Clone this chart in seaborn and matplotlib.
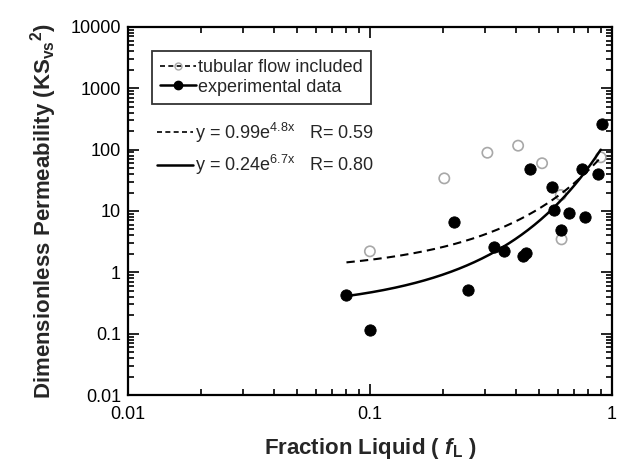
import numpy as np
import pandas as pd
import seaborn as sns
import matplotlib
matplotlib.use("Agg")
import matplotlib.pyplot as plt
from matplotlib.lines import Line2D
from matplotlib.ticker import LogLocator, FixedFormatter, FixedLocator

# experimental data (filled circles)
exp_fl = [0.080, 0.100, 0.223, 0.255, 0.327, 0.358, 0.428, 0.440, 0.458,
          0.564, 0.576, 0.615, 0.667, 0.750, 0.773, 0.877, 0.914]
exp_k = [0.43, 0.115, 6.7, 0.52, 2.6, 2.2, 1.87, 2.05, 48,
         24.9, 10.4, 4.9, 9.2, 48, 8.1, 40, 262]

# tubular flow included (open circles)
tub_fl = [0.100, 0.203, 0.306, 0.410, 0.515, 0.615, 0.620, 0.900]
tub_k = [2.2, 34, 89, 116, 60, 18.2, 3.45, 75]

# exponential fits shown in the chart: y = a * exp(b * x)
fit_tub = (0.99, 4.8)
fit_exp = (0.24, 6.7)
fit_range = (0.08, 0.9)

sns.set_theme(style="ticks")
plt.rcParams["font.family"] = ["Liberation Sans", "DejaVu Sans"]
plt.rcParams["mathtext.fontset"] = "custom"
plt.rcParams["mathtext.rm"] = "Liberation Sans"
plt.rcParams["mathtext.it"] = "Liberation Sans:italic"
plt.rcParams["mathtext.bf"] = "Liberation Sans:bold"
plt.rcParams["mathtext.bfit"] = "Liberation Sans:bold:italic"

fig = plt.figure(figsize=(6.23, 4.72), dpi=100)
ax = fig.add_axes([0.2055, 0.163, 0.7765, 0.78])

xs = np.geomspace(fit_range[0], fit_range[1], 200)
fits = pd.DataFrame({
    "x": np.concatenate([xs, xs]),
    "y": np.concatenate([fit_tub[0] * np.exp(fit_tub[1] * xs),
                         fit_exp[0] * np.exp(fit_exp[1] * xs)]),
    "fit": ["tub"] * len(xs) + ["exp"] * len(xs),
})
sns.lineplot(data=fits[fits.fit == "tub"], x="x", y="y", ax=ax, color="black",
             lw=1.5, linestyle=(0, (4, 2.5)), zorder=4)
sns.lineplot(data=fits[fits.fit == "exp"], x="x", y="y", ax=ax, color="black",
             lw=1.8, zorder=4)

sns.scatterplot(x=tub_fl, y=tub_k, ax=ax, s=55, facecolor="none",
                edgecolor="#a8a8a8", linewidth=1.2, zorder=2)
sns.scatterplot(x=exp_fl, y=exp_k, ax=ax, s=66, color="black",
                edgecolor="black", zorder=3)

ax.set_xscale("log")
ax.set_yscale("log")
ax.set_xlim(0.01, 1)
ax.set_ylim(0.01, 10000)

xt = [0.01, 0.1, 1]
yt = [0.01, 0.1, 1, 10, 100, 1000, 10000]
ax.xaxis.set_major_locator(FixedLocator(xt))
ax.xaxis.set_major_formatter(FixedFormatter(["0.01", "0.1", "1"]))
ax.yaxis.set_major_locator(FixedLocator(yt))
ax.yaxis.set_major_formatter(FixedFormatter(["0.01", "0.1", "1", "10", "100", "1000", "10000"]))
ax.xaxis.set_minor_locator(LogLocator(base=10, subs=np.arange(2, 10)))
ax.yaxis.set_minor_locator(LogLocator(base=10, subs=np.arange(2, 10)))
ax.tick_params(which="both", direction="in", top=True, right=True,
               colors="black", labelsize=13, width=1.2)
ax.tick_params(which="major", length=8)
ax.tick_params(which="minor", length=4)
ax.tick_params(axis="x", pad=8)
ax.tick_params(axis="y", pad=5)
for s in ax.spines.values():
    s.set_linewidth(1.6)
    s.set_color("black")

ax.set_xlabel(r"Fraction Liquid ( $\mathbfit{f}_{\mathbf{L}}$ )",
              fontsize=16, fontweight="bold", labelpad=9)
ax.set_ylabel(r"Dimensionless Permeability (KS$_{\mathbf{vs}}$$^{\mathbf{2}}$)",
              fontsize=16, fontweight="bold", labelpad=8)

h1 = [Line2D([], [], color="black", lw=1.2, linestyle=(0, (3, 2)),
             marker="o", mfc="none", mec="#a8a8a8", ms=5),
      Line2D([], [], color="black", lw=1.8, marker="o", mfc="black",
             mec="black", ms=6)]
leg1 = ax.legend(h1, ["tubular flow included", "experimental data"],
                 loc="upper left", bbox_to_anchor=(0.05, 0.935),
                 frameon=True, fancybox=False, edgecolor="black",
                 fontsize=13, handlelength=2.0, handletextpad=0.1,
                 borderpad=0.45, labelspacing=0.15, borderaxespad=0)
leg1.get_frame().set_linewidth(1.3)
ax.add_artist(leg1)

h2 = [Line2D([], [], color="black", lw=1.2, linestyle=(0, (3, 2))),
      Line2D([], [], color="black", lw=1.8)]
lab2 = [r"y = 0.99e$^{\mathrm{4.8x}}$   R= 0.59",
        r"y = 0.24e$^{\mathrm{6.7x}}$   R= 0.80"]
ax.legend(h2, lab2, loc="upper left", bbox_to_anchor=(0.045, 0.765),
          frameon=False, fontsize=13, handlelength=2.0, handletextpad=0.1,
          labelspacing=0.45, borderaxespad=0)

fig.savefig("out.png", dpi=100)
